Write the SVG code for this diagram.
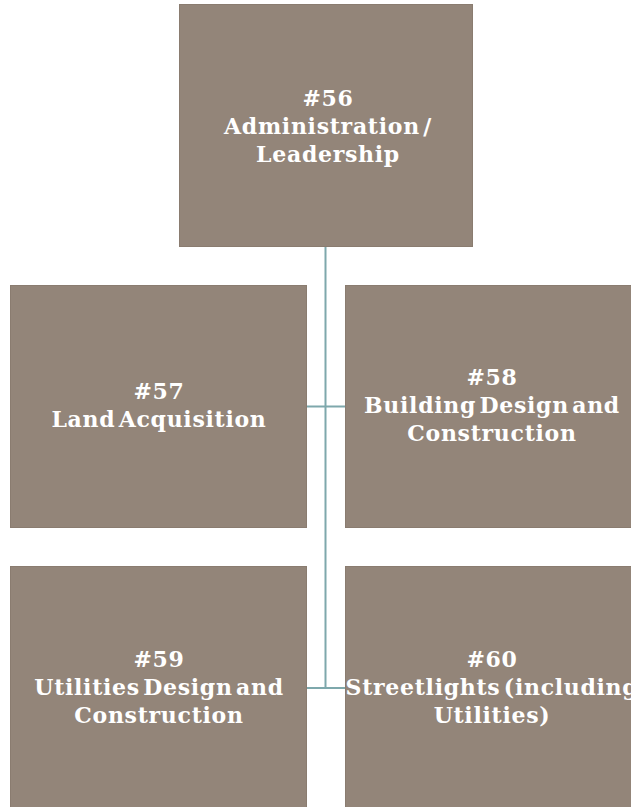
<svg xmlns="http://www.w3.org/2000/svg" width="631" height="807" viewBox="0 0 631 807">
  <style>
    .box { fill: #938579; stroke: #8a7c70; stroke-width: 1; }
    .lbl { font-family: "DejaVu Serif", "Liberation Serif", serif; font-weight: bold; font-size: 22px; fill: #ffffff; text-anchor: middle; letter-spacing: 0.7px; word-spacing: -5px; }
    .conn { stroke: #7ea8ac; stroke-width: 2; fill: none; }
  </style>
  <rect width="631" height="807" fill="#ffffff"/>
  <g id="connectors">
    <line class="conn" x1="325.5" y1="246" x2="325.5" y2="688"/>
    <line class="conn" x1="306" y1="406.5" x2="345" y2="406.5"/>
    <line class="conn" x1="306" y1="688" x2="345" y2="688"/>
  </g>
  <g id="n56">
    <rect class="box" x="179.5" y="4.5" width="293" height="242"/>
    <text class="lbl" x="328" y="106">#56</text>
    <text class="lbl" x="328" y="134">Administration /</text>
    <text class="lbl" x="328" y="162">Leadership</text>
  </g>
  <g id="n57">
    <rect class="box" x="10.5" y="285.5" width="296" height="242"/>
    <text class="lbl" x="159" y="399">#57</text>
    <text class="lbl" x="159" y="427">Land Acquisition</text>
  </g>
  <g id="n58">
    <rect class="box" x="345.5" y="285.5" width="296" height="242"/>
    <text class="lbl" x="492" y="385">#58</text>
    <text class="lbl" x="492" y="413">Building Design and</text>
    <text class="lbl" x="492" y="441">Construction</text>
  </g>
  <g id="n59">
    <rect class="box" x="10.5" y="566.5" width="296" height="250"/>
    <text class="lbl" x="159" y="667">#59</text>
    <text class="lbl" x="159" y="695">Utilities Design and</text>
    <text class="lbl" x="159" y="723">Construction</text>
  </g>
  <g id="n60">
    <rect class="box" x="345.5" y="566.5" width="296" height="250"/>
    <text class="lbl" x="492" y="667">#60</text>
    <text class="lbl" x="492" y="695">Streetlights (including</text>
    <text class="lbl" x="492" y="723">Utilities)</text>
  </g>
</svg>
